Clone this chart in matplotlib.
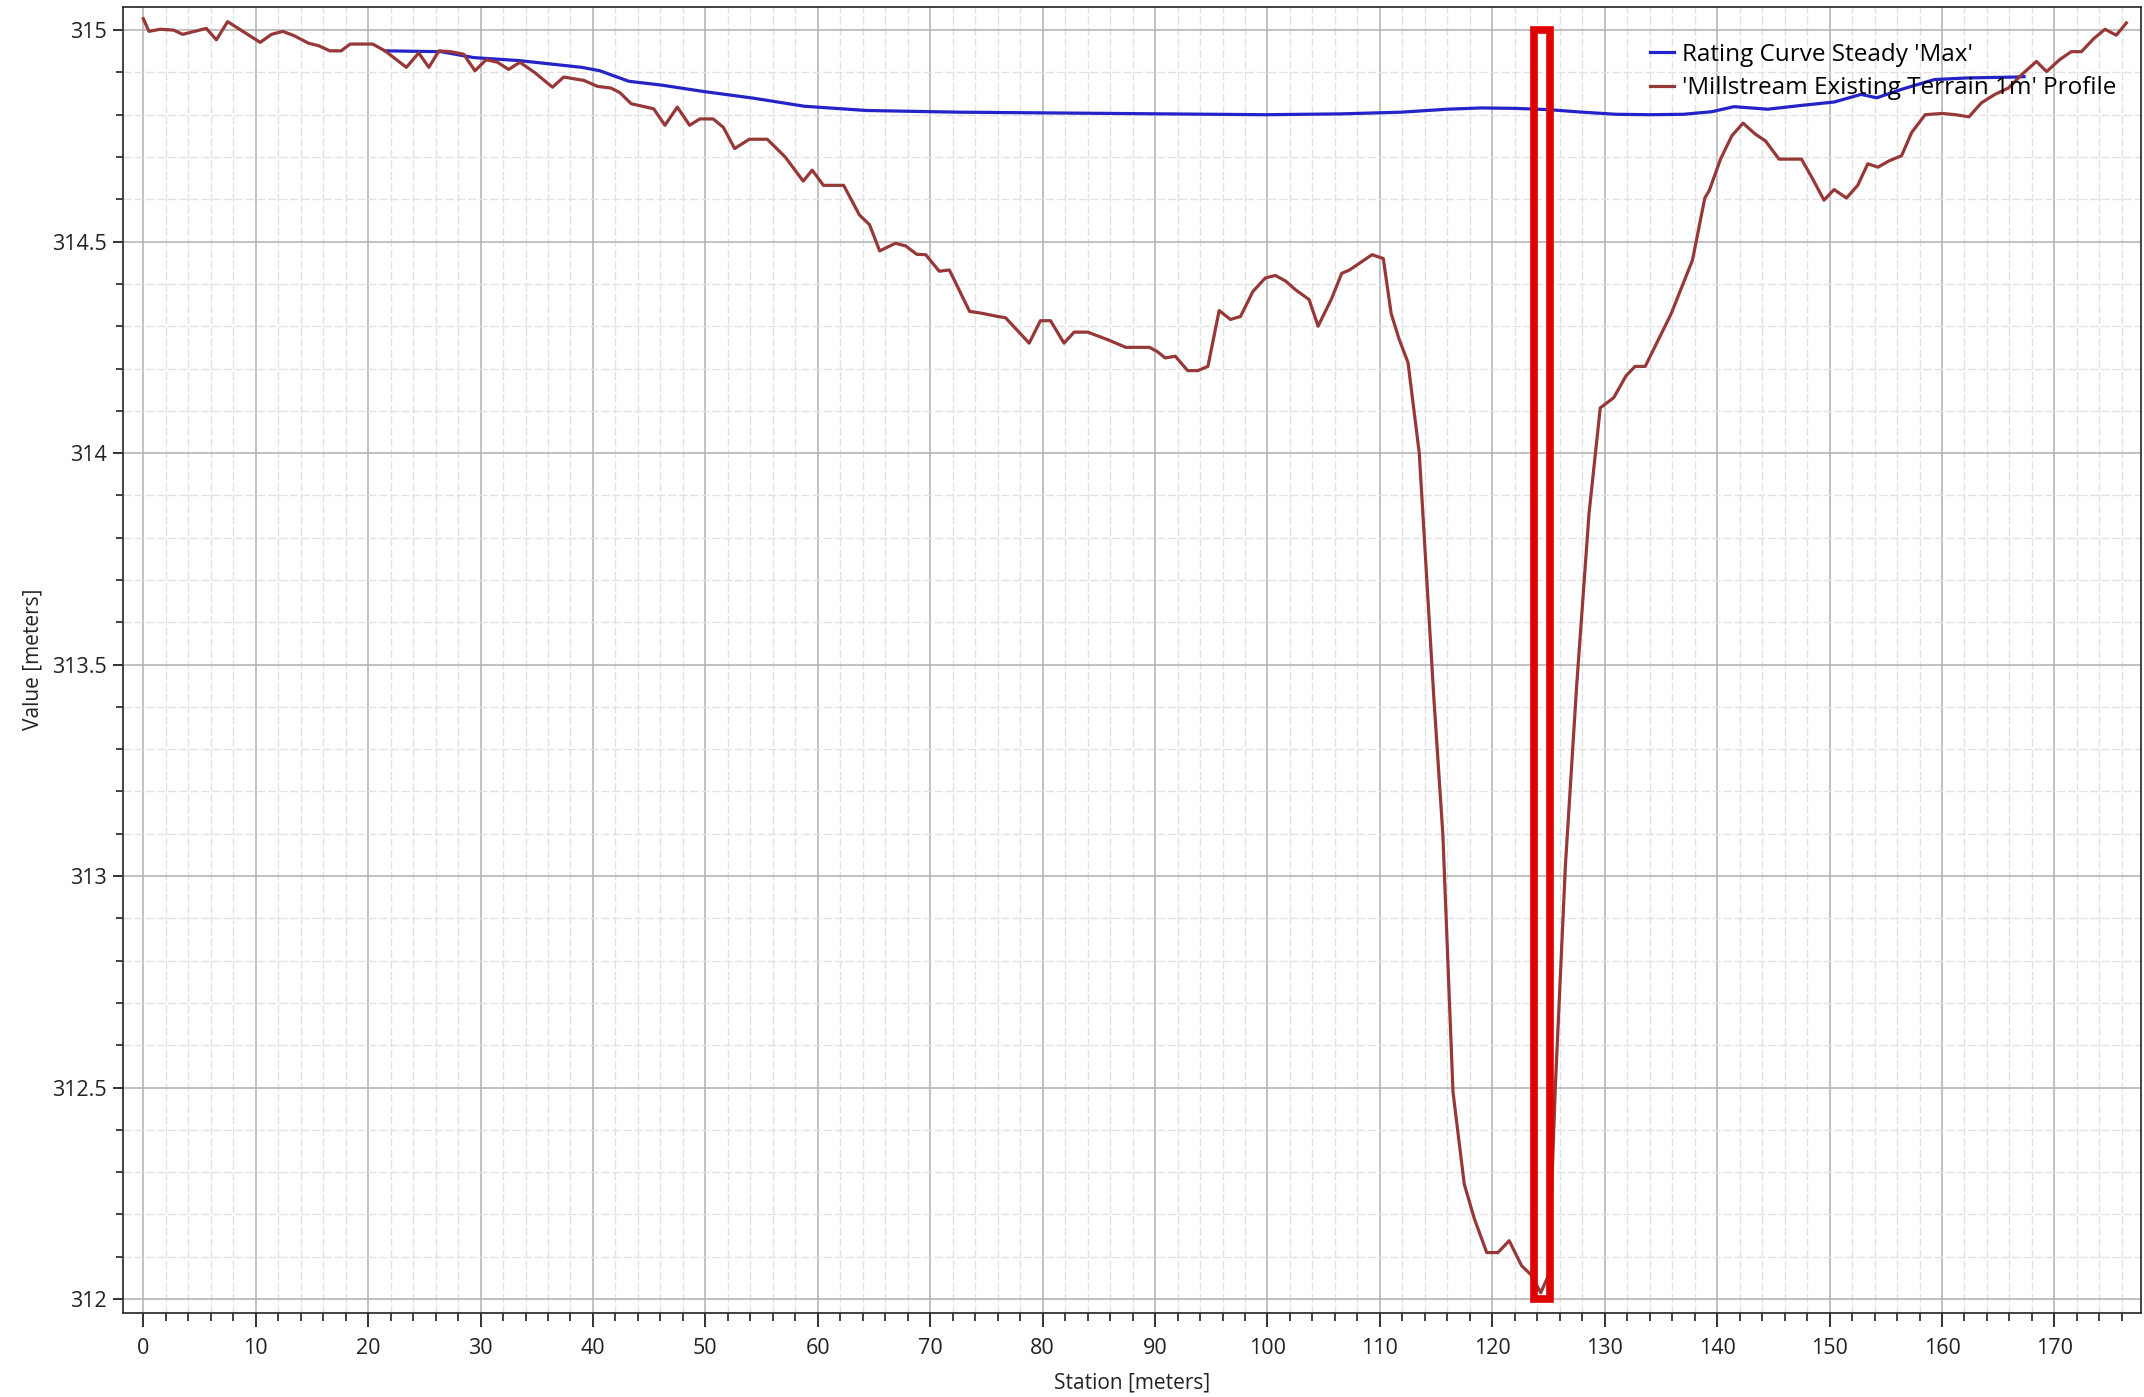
import matplotlib
matplotlib.use("Agg")
import matplotlib.pyplot as plt
from matplotlib.patches import Rectangle
from matplotlib.ticker import MultipleLocator

# terrain profile (station [m], elevation [m])
terrain_station = [
    0, 0.5, 1.5, 2.7, 3.5, 4.7, 5.6, 6.5, 7.5, 8.8, 10.4, 11.4, 12.4, 13.4, 14.7,
    15.6, 16.6, 17.6, 18.4, 20.4, 21.5, 23.4, 24.5, 25.4, 26.3, 27.3, 28.5, 29.5,
    30.5, 31.5, 32.5, 33.5, 34.8, 36.4, 37.4, 39.2, 40.4, 41.6, 42.4, 43.4, 45.4,
    46.4, 47.5, 48.6, 49.5, 50.7, 51.6, 52.6, 53.9, 55.5, 57.1, 58.7, 59.5, 60.5,
    62.3, 63.7, 64.6, 65.5, 66.9, 67.8, 68.8, 69.6, 70.8, 71.7, 73.5, 74.5, 76.0,
    76.7, 78.8, 79.8, 80.7, 81.9, 82.8, 84.0, 85.8, 87.4, 89.5, 90.2, 90.9, 91.8,
    92.9, 93.8, 94.7, 95.7, 96.7, 97.6, 98.7, 99.8, 100.7, 101.6, 102.5, 103.7,
    104.5, 105.7, 106.6, 107.3, 109.3, 110.3, 111.0, 111.7, 112.5, 113.5, 114.8,
    115.6, 116.5, 117.5, 118.4, 119.5, 120.5, 121.5, 122.6, 123.5, 124.3, 125.0,
    125.6, 126.5, 127.5, 128.6, 129.6, 130.8, 131.9, 132.7, 133.6, 135.9, 137.8,
    138.9, 139.3, 140.3, 141.3, 142.3, 143.4, 144.3, 145.5, 147.5, 148.5, 149.5,
    150.4, 151.5, 152.5, 153.4, 154.3, 155.3, 156.4, 157.3, 158.5, 160.0, 161.2,
    162.4, 163.5, 164.7, 165.9, 167.1, 168.4, 169.3, 170.5, 171.5, 172.4, 173.5,
    174.5, 175.5, 176.4,
]
terrain_elev = [
    315.027, 314.997, 315.002, 315.0, 314.99, 314.998, 315.004, 314.977, 315.02,
    314.998, 314.971, 314.99, 314.997, 314.987, 314.969, 314.963, 314.951, 314.951,
    314.967, 314.967, 314.951, 314.912, 314.946, 314.912, 314.951, 314.949, 314.943,
    314.904, 314.93, 314.924, 314.907, 314.924, 314.9, 314.865, 314.889, 314.881,
    314.867, 314.863, 314.852, 314.826, 314.814, 314.775, 314.818, 314.775, 314.79,
    314.79, 314.77, 314.72, 314.742, 314.742, 314.70, 314.643, 314.669, 314.633,
    314.633, 314.563, 314.54, 314.478, 314.496, 314.49, 314.47, 314.469, 314.43,
    314.433, 314.335, 314.331, 314.323, 314.32, 314.26, 314.313, 314.313, 314.26,
    314.286, 314.286, 314.268, 314.25, 314.25, 314.24, 314.225, 314.229, 314.195,
    314.195, 314.205, 314.337, 314.316, 314.323, 314.382, 314.414, 314.42, 314.407,
    314.386, 314.363, 314.30, 314.365, 314.425, 314.433, 314.469, 314.46, 314.33,
    314.27, 314.214, 314.0, 313.42, 313.098, 312.49, 312.272, 312.19, 312.11,
    312.11, 312.138, 312.079, 312.056, 312.015, 312.056, 312.5, 313.025, 313.45,
    313.857, 314.107, 314.131, 314.183, 314.205, 314.205, 314.329, 314.456,
    314.603, 314.621, 314.695, 314.75, 314.78, 314.754, 314.738, 314.695, 314.695,
    314.648, 314.598, 314.623, 314.603, 314.633, 314.684, 314.676, 314.691,
    314.703, 314.758, 314.80, 314.803, 314.80, 314.795, 314.828, 314.848, 314.863,
    314.895, 314.926, 314.902, 314.931, 314.949, 314.949, 314.98, 315.002,
    314.988, 315.017,
]

# water surface from the rating curve
ws_station = [
    21.5, 26.5, 29.4, 33.4, 36.2, 39.0, 40.6, 43.2, 46.1, 49.8, 54.3, 58.8, 64.3,
    72.5, 81.6, 90.7, 99.8, 106.6, 111.9, 116.0, 119.0, 122.0, 125.0, 128.0, 131.0,
    134.0, 137.0, 139.5, 141.5, 144.5, 147.5, 150.4, 152.8, 154.2, 156.4, 159.3,
    162.3, 166.5, 167.3,
]
ws_elev = [
    314.951, 314.949, 314.935, 314.928, 314.92, 314.912, 314.904, 314.879, 314.87,
    314.855, 314.839, 314.82, 314.81, 314.806, 314.804, 314.802, 314.80, 314.802,
    314.806, 314.813, 314.816, 314.815, 314.812, 314.806, 314.801, 314.80, 314.801,
    314.807, 314.819, 314.813, 314.822, 314.83, 314.848, 314.84, 314.86, 314.883,
    314.887, 314.889, 314.89,
]

labels = ["Rating Curve Steady 'Max'", "'Millstream Existing Terrain 1m' Profile"]

# highlighted section (station range, elevation range)
box_station = (123.7, 125.1)
box_elev = (312.0, 315.0)

plt.rcParams["font.family"] = ["Open Sans", "DejaVu Sans"]

fig = plt.figure(figsize=(21.44, 13.97), dpi=100)
ax = fig.add_axes([0.0574, 0.0604, 0.9412, 0.9347])

ax.plot(ws_station, ws_elev, color="#2323c8", lw=2.3, label=labels[0])
ax.plot(terrain_station, terrain_elev, color="#963838", lw=2.3, label=labels[1])

ax.add_patch(Rectangle((box_station[0], box_elev[0]), box_station[1] - box_station[0],
                       box_elev[1] - box_elev[0], fill=False, edgecolor="#e00000",
                       lw=5.5, zorder=5))

ax.set_xlim(-1.8, 177.7)
ax.set_ylim(311.968, 315.055)

ax.xaxis.set_major_locator(MultipleLocator(10))
ax.xaxis.set_minor_locator(MultipleLocator(2))
ax.yaxis.set_major_locator(MultipleLocator(0.5))
ax.yaxis.set_minor_locator(MultipleLocator(0.1))
ax.yaxis.set_major_formatter(plt.FuncFormatter(lambda v, p: f"{v:g}"))

ax.grid(which="major", color="#b0b0b0", lw=1.1)
ax.grid(which="minor", color="#e2e2e2", lw=1.0, ls=(0, (6, 2)))
ax.set_axisbelow(True)

ax.tick_params(axis="x", which="major", length=10, width=1.3, pad=8, labelsize=15.5, colors="#222222")
ax.tick_params(axis="x", which="minor", length=6, width=1.2, colors="#222222")
ax.tick_params(axis="y", which="major", length=7, width=1.3, pad=5, labelsize=15.5, colors="#222222")
ax.tick_params(axis="y", which="minor", length=5, width=1.2, colors="#222222")

for s in ax.spines.values():
    s.set_color("#333333")
    s.set_linewidth(1.3)

ax.set_xlabel("Station [meters]", fontsize=15, labelpad=10, color="#222222")
ax.set_ylabel("Value [meters]", fontsize=15, labelpad=6, color="#222222")

fig.legend(loc="upper left", bbox_to_anchor=(1650 / 2144, 1 - 43 / 1397),
           frameon=False, fontsize=17.5, handlelength=1.0, handletextpad=0.3,
           borderpad=0, borderaxespad=0, labelspacing=0.38)

fig.savefig("out.png", dpi=100)
